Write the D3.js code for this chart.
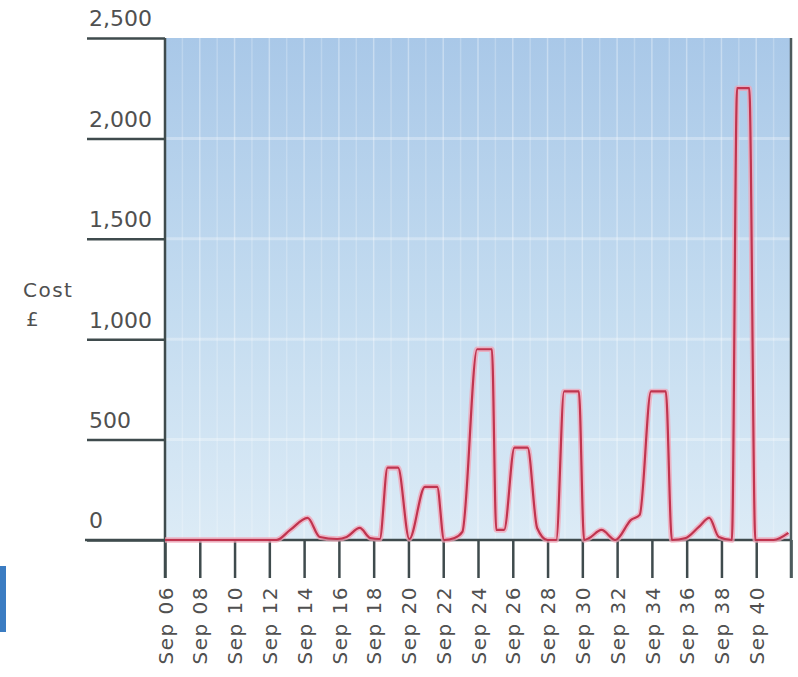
<!DOCTYPE html>
<html>
<head>
<meta charset="utf-8">
<script src="https://cdn.jsdelivr.net/npm/d3@7"></script>
<style>
  html, body { margin: 0; padding: 0; background: #ffffff; }
  svg { display: block; }
  text { font-family: "DejaVu Sans", Verdana, sans-serif; fill: #505050; }
</style>
</head>
<body>
<svg id="chart" width="798" height="677"></svg>
<script>
// Weekly cost (in £), sampled at fractional week positions
const weeks = [6, 12.4, 13.2, 14.2, 14.9, 15.9, 16.45, 17.2, 17.8, 18.35, 18.8, 19.4, 20.05,
  20.95, 21.65, 22.05, 22.65, 23.1, 23.95, 24.8, 25.05, 25.5, 26.1, 26.85, 27.4, 28.0, 28.5,
  28.95, 29.8, 30.1, 30.4, 31.1, 31.9, 32.8, 33.3, 33.95, 34.8, 35.15, 35.95, 36.7, 37.3,
  37.85, 38.6, 38.9, 39.6, 39.95, 41.0, 41.85];
const cost = [0, 0, 50, 110, 15, 5, 15, 60, 10, 5, 360, 360, 5,
  265, 265, 0, 10, 40, 950, 950, 50, 50, 460, 460, 60, 0, 0,
  740, 740, 0, 10, 50, 0, 100, 125, 740, 740, 0, 10, 65, 110,
  15, 0, 2250, 2250, 0, 0, 35];

// Axis ticks
const yTicks = [0, 500, 1000, 1500, 2000, 2500];
const xTicks = [6, 8, 10, 12, 14, 16, 18, 20, 22, 24, 26, 28, 30, 32, 34, 36, 38, 40, 42];
const xTickLabels = ["Sep 06", "Sep 08", "Sep 10", "Sep 12", "Sep 14", "Sep 16", "Sep 18",
  "Sep 20", "Sep 22", "Sep 24", "Sep 26", "Sep 28", "Sep 30", "Sep 32", "Sep 34", "Sep 36",
  "Sep 38", "Sep 40", ""];
const yAxisTitle = ["Cost", "£"];

const svg = d3.select("#chart");
const plotLeft = 165, plotRight = 791, plotTop = 38, plotBottom = 540;

const x = d3.scaleLinear().domain([6, 42]).range([plotLeft, plotRight]);
const y = d3.scaleLinear().domain([0, 2500]).range([plotBottom, plotTop]);

// Plot background gradient
const defs = svg.append("defs");
const grad = defs.append("linearGradient").attr("id", "bg").attr("x1", 0).attr("y1", 0).attr("x2", 0).attr("y2", 1);
grad.append("stop").attr("offset", "0%").attr("stop-color", "#a9c8e8");
grad.append("stop").attr("offset", "55%").attr("stop-color", "#c4dcf0");
grad.append("stop").attr("offset", "100%").attr("stop-color", "#dcebf6");

svg.append("rect")
  .attr("x", plotLeft).attr("y", plotTop)
  .attr("width", plotRight - plotLeft).attr("height", plotBottom - plotTop)
  .attr("fill", "url(#bg)");

// Faint vertical grid stripes
svg.append("g").selectAll("line")
  .data(d3.range(6, 42.01, 1))
  .join("line")
  .attr("x1", d => x(d)).attr("x2", d => x(d))
  .attr("y1", plotTop).attr("y2", plotBottom)
  .attr("stroke", "#ffffff")
  .attr("stroke-opacity", (d, i) => (i % 2 ? 0.22 : 0.35))
  .attr("stroke-width", 1.5);

// Faint horizontal grid bands
svg.append("g").selectAll("line")
  .data(yTicks.slice(1, -1))
  .join("line")
  .attr("x1", plotLeft).attr("x2", plotRight)
  .attr("y1", d => y(d)).attr("y2", d => y(d))
  .attr("stroke", "#ffffff")
  .attr("stroke-opacity", 0.3)
  .attr("stroke-width", 3);

// Left axis: long ticks with labels sitting above them
const yAxis = d3.axisLeft(y).tickValues(yTicks).tickSize(78).tickFormat(d3.format(","));
const gy = svg.append("g").attr("transform", `translate(${plotLeft},0)`).call(yAxis);
gy.select(".domain").remove();
gy.selectAll(".tick line").attr("stroke", "#3f4b4d").attr("stroke-width", 2.5);
gy.selectAll(".tick text")
  .attr("x", -76).attr("dy", "-0.55em")
  .attr("text-anchor", "start")
  .style("font-size", "22px")
  .style("fill", "#505050");

// Bottom axis with rotated labels
const xAxis = d3.axisBottom(x).tickValues(xTicks).tickSize(38)
  .tickFormat((d, i) => xTickLabels[i]);
const gx = svg.append("g").attr("transform", `translate(0,${plotBottom})`).call(xAxis);
gx.select(".domain").remove();
gx.selectAll(".tick line").attr("stroke", "#3f4b4d").attr("stroke-width", 2.5);
gx.selectAll(".tick text")
  .attr("transform", "rotate(-90)")
  .attr("x", -46).attr("y", 0).attr("dy", "0.36em")
  .attr("text-anchor", "end")
  .style("font-size", "20px")
  .style("letter-spacing", "1.5px")
  .style("fill", "#505050");

// Axis lines and frame edges
svg.append("line")
  .attr("x1", 85).attr("x2", plotRight)
  .attr("y1", plotBottom).attr("y2", plotBottom)
  .attr("stroke", "#3f4b4d").attr("stroke-width", 2.5);
svg.append("line")
  .attr("x1", plotLeft).attr("x2", plotLeft)
  .attr("y1", plotTop).attr("y2", plotBottom + 38)
  .attr("stroke", "#3f4b4d").attr("stroke-width", 2.5);
svg.append("line")
  .attr("x1", plotRight).attr("x2", plotRight)
  .attr("y1", plotTop).attr("y2", plotBottom + 38)
  .attr("stroke", "#4d5a5c").attr("stroke-width", 2.5);

// Cost line
const line = d3.line()
  .x((d, i) => x(weeks[i]))
  .y(d => y(d))
  .curve(d3.curveMonotoneX);

svg.append("path")
  .datum(cost)
  .attr("d", line)
  .attr("fill", "none")
  .attr("stroke", "#f2a3b6")
  .attr("stroke-opacity", 0.75)
  .attr("stroke-width", 5.5)
  .attr("stroke-linejoin", "round");
svg.append("path")
  .datum(cost)
  .attr("d", line)
  .attr("fill", "none")
  .attr("stroke", "#c0344f")
  .attr("stroke-width", 2.2)
  .attr("stroke-linejoin", "round");

// Axis title
svg.append("text")
  .attr("x", 23).attr("y", 297)
  .style("font-size", "20px")
  .style("letter-spacing", "1.5px")
  .text(yAxisTitle[0]);
svg.append("text")
  .attr("x", 26).attr("y", 326)
  .style("font-size", "20px")
  .text(yAxisTitle[1]);

// Edge of the neighbouring panel
svg.append("rect")
  .attr("x", 0).attr("y", 566)
  .attr("width", 6).attr("height", 66)
  .attr("fill", "#3b7cc2");
</script>
</body>
</html>
